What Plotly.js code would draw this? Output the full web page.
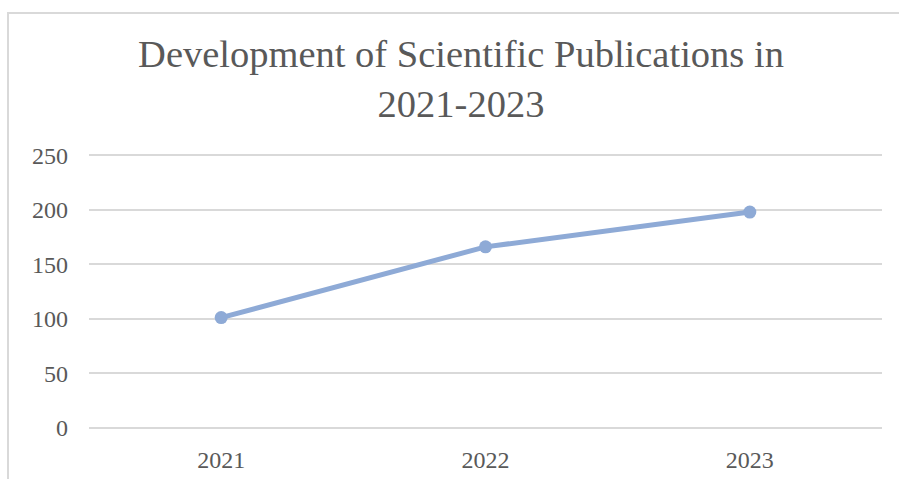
<!DOCTYPE html>
<html>
<head>
<meta charset="utf-8">
<script src="https://cdn.plot.ly/plotly-3.0.1.min.js"></script>
<style>
html,body{margin:0;padding:0;background:#fff;overflow:hidden;}
#frame{position:absolute;left:7px;top:12px;width:1200px;height:1000px;border-left:2px solid #d9d9d9;border-top:2px solid #d9d9d9;}
#chart{position:absolute;left:0;top:0;width:899px;height:479px;}
</style>
</head>
<body>
<div id="frame"></div>
<div id="chart"></div>
<script>
var years = ['2021', '2022', '2023'];
var publications = [101, 166, 198];
var yTicks = [0, 50, 100, 150, 200, 250];

var trace = {
  x: years,
  y: publications,
  type: 'scatter',
  mode: 'lines+markers',
  line: {color: '#8eaad6', width: 5},
  marker: {color: '#8eaad6', size: 13},
  hoverinfo: 'x+y'
};

var fontFam = 'Liberation Serif, DejaVu Serif, serif';
var layout = {
  width: 899, height: 479,
  paper_bgcolor: 'rgba(0,0,0,0)',
  plot_bgcolor: 'rgba(0,0,0,0)',
  margin: {l: 89, r: 17, t: 149.5, b: 45.5},
  showlegend: false,
  title: {
    text: 'Development of Scientific Publications in<br>2021-2023',
    font: {family: fontFam, size: 38.5, color: '#595959'},
    x: 461/899, xref: 'container', xanchor: 'center',
    y: 1 - 67/479, yref: 'container', yanchor: 'middle'
  },
  xaxis: {
    type: 'category',
    range: [-0.5, 2.5],
    showgrid: false, zeroline: false, showline: false,
    ticks: '',
    tickfont: {family: fontFam, size: 24, color: '#595959'},
    ticklabelstandoff: 10
  },
  yaxis: {
    range: [-5, 255],
    tickvals: yTicks,
    ticktext: yTicks.map(String),
    showgrid: true, gridcolor: '#d9d9d9', gridwidth: 2,
    zeroline: false, showline: false, ticks: '',
    tickfont: {family: fontFam, size: 24, color: '#595959'},
    ticklabelstandoff: 20
  }
};

Plotly.newPlot('chart', [trace], layout, {displayModeBar: false, staticPlot: true});
</script>
</body>
</html>
